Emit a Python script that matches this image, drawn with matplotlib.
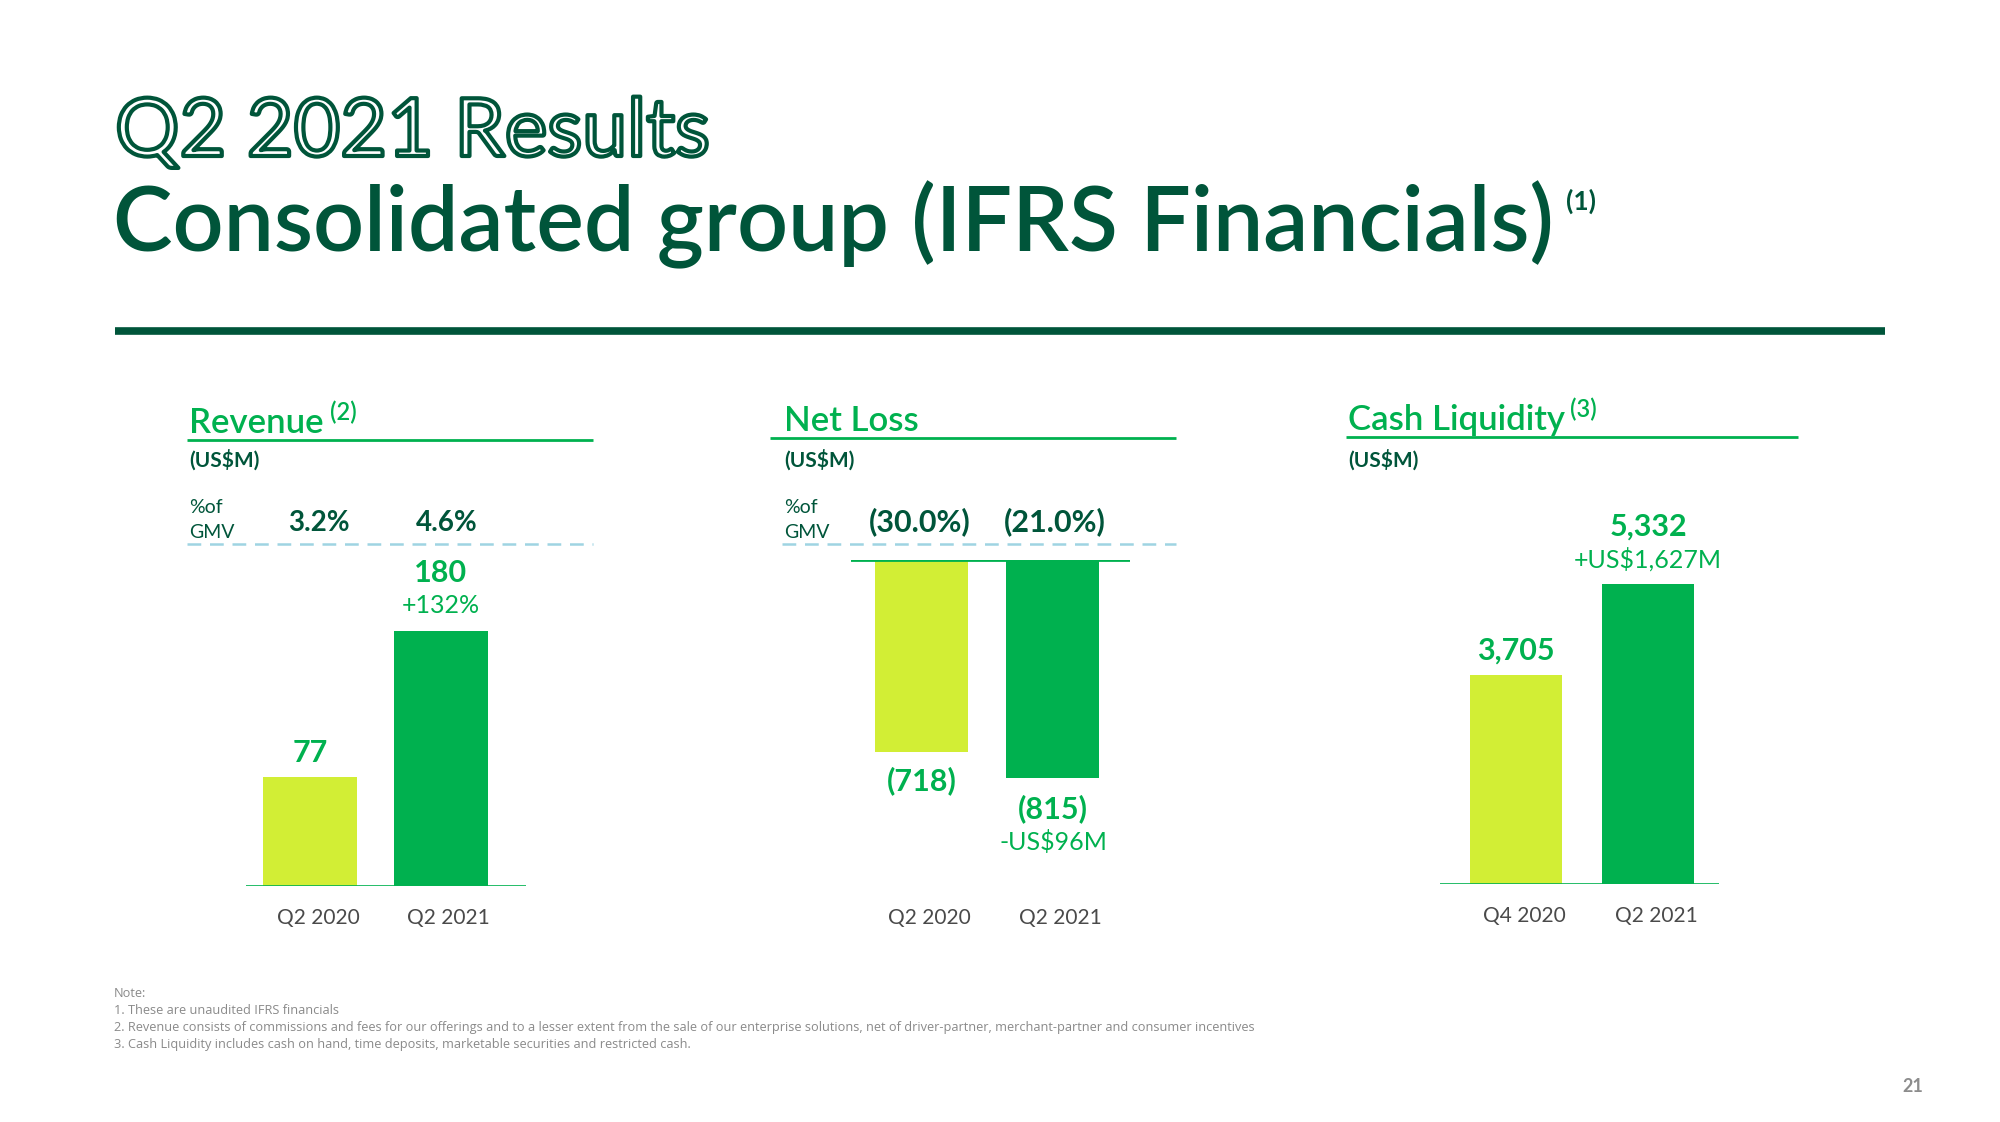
import matplotlib.pyplot as plt
import matplotlib.patheffects as pe

W, H = 2000, 1122
DARK = '#00553A'
GREEN = '#00B14F'
LIME = '#D2EE35'
DASH = '#9FD4E2'
GREY_TXT = '#4A4A4A'
NOTE = '#8A8A8A'

plt.rcParams['font.family'] = ['Lato', 'DejaVu Sans']

# data
rev_periods = ['Q2 2020', 'Q2 2021']
rev_values = [77, 180]
rev_gmv = ['3.2%', '4.6%']
rev_growth = '+132%'

loss_periods = ['Q2 2020', 'Q2 2021']
loss_values = [-718, -815]
loss_gmv = ['(30.0%)', '(21.0%)']
loss_change = '-US$96M'

cash_periods = ['Q4 2020', 'Q2 2021']
cash_values = [3705, 5332]
cash_change = '+US$1,627M'

notes = [
    "Note:",
    "1. These are unaudited IFRS financials",
    "2. Revenue consists of commissions and fees for our offerings and to a lesser extent from the sale of our "
    "enterprise solutions, net of driver-partner, merchant-partner and consumer incentives",
    "3. Cash Liquidity includes cash on hand, time deposits, marketable securities and restricted cash.",
]


def fx(x):
    return x / W


def fy(y):
    return 1 - y / H


def add_axes(left, right, top, bottom):
    return fig.add_axes([fx(left), fy(bottom), (right - left) / W, (bottom - top) / H])


fig = plt.figure(figsize=(20, 11.22), dpi=100)

# header
fig.text(fx(115), fy(156), "Q2 2021 Results", fontsize=58, color='white', fontweight='normal',
         path_effects=[pe.Stroke(linewidth=3, foreground=DARK)])
fig.text(fx(113), fy(251), "Consolidated group (IFRS Financials)", fontsize=64.5, color=DARK,
         fontweight='semibold')
fig.text(fx(1566), fy(210), "(1)", fontsize=19, color=DARK, fontweight='bold')
fig.add_artist(plt.Line2D([fx(115), fx(1885)], [fy(331), fy(331)], color=DARK, lw=5.5,
                          solid_capstyle='butt'))


def panel_header(x0, x1, tx, title, sup, sup_x, line_y, gmv_label=True):
    fig.text(fx(tx), fy(line_y - 7), title, fontsize=25, color=GREEN, fontweight='semibold')
    if sup:
        fig.text(fx(sup_x), fy(line_y - 20), sup, fontsize=17, color=GREEN, fontweight='semibold')
    fig.add_artist(plt.Line2D([fx(x0), fx(x1)], [fy(line_y), fy(line_y)], color=GREEN, lw=2,
                              solid_capstyle='butt'))
    fig.text(fx(tx), fy(467), "(US$M)", fontsize=15, color=DARK, fontweight='bold')
    if gmv_label:
        fig.text(fx(tx), fy(513), "%of", fontsize=14, color=DARK)
        fig.text(fx(tx), fy(538), "GMV", fontsize=14, color=DARK)
        fig.add_artist(plt.Line2D([fx(tx - 2), fx(x1)], [fy(544), fy(544)], color=DASH, lw=1.8,
                                  linestyle=(0, (5.5, 3.5))))


def style(ax, periods):
    for s in ax.spines.values():
        s.set_visible(False)
    ax.set_yticks([])
    ax.set_xticks([i + 0.06 for i in range(len(periods))])
    ax.set_xticklabels(periods, fontsize=15, color=GREY_TXT)
    ax.tick_params(axis='x', length=0, pad=16)
    ax.patch.set_alpha(0)


def lbl(ax, x, y, text, off_px, size, weight='bold', color=GREEN):
    ax.annotate(text, (x, y), xytext=(0, off_px * 0.72), textcoords='offset points',
                ha='center', va='center', fontsize=size, fontweight=weight, color=color,
                annotation_clip=False)


# ---- Revenue
panel_header(187, 593, 189, "Revenue", "(2)", 330, 440)
for x, t in zip([319, 447], rev_gmv):
    fig.text(fx(x), fy(531), t, fontsize=20, color=DARK, fontweight='bold', ha='center')
ax1 = add_axes(246, 526, 560, 886)
ax1.bar([0, 1], rev_values, width=0.72, color=[LIME, GREEN])
ax1.set_xlim(-0.49, 1.65)
ax1.set_ylim(0, 326 / 1.414)
ax1.axhline(0, color=GREEN, lw=1.2)
style(ax1, rev_periods)
lbl(ax1, 0, rev_values[0], "77", 24, 22)
lbl(ax1, 1, rev_values[1], "180", 58, 22)
lbl(ax1, 1, rev_values[1], rev_growth, 26, 18, weight='normal')

# ---- Net Loss
panel_header(770, 1176, 784, "Net Loss", None, 0, 438)
for x, t in zip([920, 1055], loss_gmv):
    fig.text(fx(x), fy(531), t, fontsize=22, color=DARK, fontweight='bold', ha='center')
ax2 = add_axes(851, 1130, 560, 886)
ax2.bar([0, 1], loss_values, width=0.71, color=[LIME, GREEN])
ax2.set_xlim(-0.542, 1.588)
ax2.set_ylim(-326 / 0.2677, 0)
ax2.axhline(0, color=GREEN, lw=2)
style(ax2, loss_periods)
lbl(ax2, 0, loss_values[0], "(718)", -28, 22)
lbl(ax2, 1, loss_values[1], "(815)", -31, 22)
lbl(ax2, 1, loss_values[1], loss_change, -64, 18, weight='normal')

# ---- Cash Liquidity
panel_header(1346, 1798, 1348, "Cash Liquidity", "(3)", 1570, 437, gmv_label=False)
ax3 = add_axes(1440, 1719, 480, 884)
ax3.bar([0, 1], cash_values, width=0.69, color=[LIME, GREEN])
ax3.set_xlim(-0.576, 1.538)
ax3.set_ylim(0, 404 / 0.05631)
ax3.axhline(0, color=GREEN, lw=1.2)
style(ax3, cash_periods)
lbl(ax3, 0, cash_values[0], "{:,}".format(cash_values[0]), 25, 22)
lbl(ax3, 1, cash_values[1], "{:,}".format(cash_values[1]), 57, 22)
lbl(ax3, 1, cash_values[1], cash_change, 24, 18, weight='normal')

# footnotes
for i, line in enumerate(notes):
    fig.text(fx(114), fy(997 + i * 17), line, fontsize=9.2, color=NOTE, family=['Open Sans', 'DejaVu Sans'])
fig.text(fx(1923), fy(1092), "21", fontsize=13, color='#8C8C8C', fontweight='bold', ha='right')

fig.savefig("out.png", dpi=100)
